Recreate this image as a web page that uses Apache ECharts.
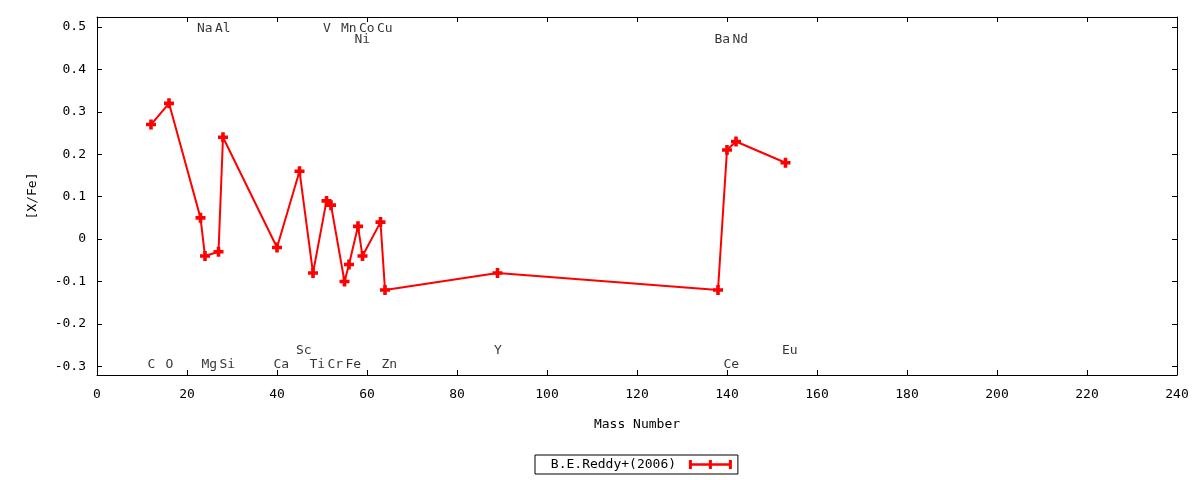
<!DOCTYPE html>
<html>
<head>
<meta charset="utf-8">
<script src="https://cdn.jsdelivr.net/npm/echarts@6/dist/echarts.min.js"></script>
<style>html,body{margin:0;padding:0;background:#fff}#c{width:1200px;height:480px}</style>
</head>
<body>
<div id="c"></div>
<script>
// ---- data ----
const seriesName = 'B.E.Reddy+(2006)';
const elements = ['C','O','Na','Mg','Al','Si','Ca','Sc','Ti','V','Cr','Mn','Fe','Ni','Co','Cu','Zn','Y','Ba','Ce','Nd','Eu'];
const massNumber = [12,16,23,24,27,28,40,45,48,51,52,55,56,58,59,63,64,89,138,140,142,153];
const xFe = [0.27,0.32,0.05,-0.04,-0.03,0.24,-0.02,0.16,-0.08,0.09,0.08,-0.10,-0.06,0.03,-0.04,0.04,-0.12,-0.08,-0.12,0.21,0.23,0.18];
// y level (in [X/Fe] units) where each element name is written
const labelLevel = [-0.295,-0.295,0.495,-0.295,0.495,-0.295,-0.295,-0.263,-0.295,0.495,-0.295,0.495,-0.295,0.47,0.495,0.495,-0.295,-0.263,0.47,-0.295,0.47,-0.263];
const yTicks = [-0.3,-0.2,-0.1,0,0.1,0.2,0.3,0.4,0.5];
const xMin = 0, xMax = 240, xStep = 20;
const yMin = -0.3205, yMax = 0.5236;

const FONT = 'DejaVu Sans Mono';
const chart = echarts.init(document.getElementById('c'), null, {renderer: 'canvas'});

const lineData = massNumber.map((m, i) => [m, xFe[i]]);
const labelData = massNumber.map((m, i) => ({value: [m, labelLevel[i]], name: elements[i]}));

const plus = 'path://M3.2,0H6.8V3.2H10V6.8H6.8V10H3.2V6.8H0V3.2H3.2Z';
const legendIcon = 'path://M0,0H3V3.5H20V0H23V3.5H40V0H43V10H40V6.5H23V10H20V6.5H3V10H0Z';

const yTickFmt = v => { const r = Math.round(v * 10) / 10; return r === 0 ? '0' : r.toFixed(1); };

const xAxisBase = {
  type: 'value', min: xMin, max: xMax, interval: xStep,
  axisLine: {show: true, onZero: false, lineStyle: {color: '#000', width: 1}},
  axisTick: {show: true, inside: true, length: 5, lineStyle: {color: '#000'}},
  splitLine: {show: false}
};
const yAxisBase = {
  type: 'value', min: yMin, max: yMax,
  axisLine: {show: true, onZero: false, lineStyle: {color: '#000', width: 1}},
  axisTick: {show: true, inside: true, length: 5, customValues: yTicks, lineStyle: {color: '#000'}},
  splitLine: {show: false}
};

chart.setOption({
  animation: false,
  backgroundColor: '#fff',
  grid: {left: 97, right: 23, top: 17, bottom: 105, containLabel: false},
  xAxis: [
    Object.assign({}, xAxisBase, {
      position: 'bottom',
      name: 'Mass Number', nameLocation: 'middle', nameGap: 43,
      nameTextStyle: {fontFamily: FONT, fontSize: 13, color: '#000'},
      axisLabel: {show: true, margin: 13, fontFamily: FONT, fontSize: 13, color: '#000'}
    }),
    Object.assign({}, xAxisBase, {position: 'top', axisLabel: {show: false}})
  ],
  yAxis: [
    Object.assign({}, yAxisBase, {
      position: 'left',
      name: '[X/Fe]', nameLocation: 'middle', nameGap: 58, nameRotate: 90,
      nameTextStyle: {fontFamily: FONT, fontSize: 13, color: '#000'},
      axisLabel: {show: true, margin: 11, customValues: yTicks, formatter: yTickFmt,
                  fontFamily: FONT, fontSize: 13, color: '#000'}
    }),
    Object.assign({}, yAxisBase, {position: 'right', axisLabel: {show: false}})
  ],
  legend: {
    show: true,
    left: 535, top: 455,
    padding: [3, 6, 3, 8],
    itemWidth: 43, itemHeight: 9,
    symbolKeepAspect: false,
    borderColor: '#000', borderWidth: 1, borderRadius: 0,
    align: 'right',
    data: [{name: seriesName, icon: legendIcon}],
    itemStyle: {borderWidth: 0},
    formatter: n => ' ' + n + ' ',
    textStyle: {fontFamily: FONT, fontSize: 13, color: '#000'}
  },
  series: [
    {
      name: seriesName, type: 'line', data: lineData,
      xAxisIndex: 0, yAxisIndex: 0,
      color: '#ff0000',
      lineStyle: {color: '#ff0000', width: 2},
      itemStyle: {color: '#ff0000'},
      symbol: plus, symbolSize: 10, showAllSymbol: true,
      z: 3
    },
    {
      name: 'labels', type: 'scatter', data: labelData,
      xAxisIndex: 0, yAxisIndex: 0,
      symbolSize: 0.01, itemStyle: {color: 'rgba(0,0,0,0)'},
      silent: true,
      label: {show: true, position: [-3.5, 0], align: 'left', verticalAlign: 'middle',
              formatter: p => p.name, fontFamily: FONT, fontSize: 13, color: '#000'},
      z: 2
    }
  ]
});
</script>
</body>
</html>
